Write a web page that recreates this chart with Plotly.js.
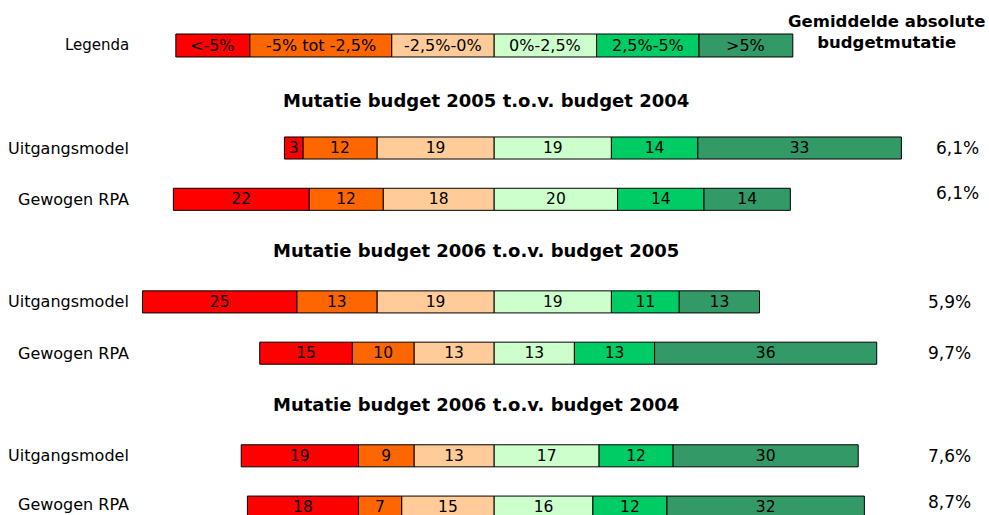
<!DOCTYPE html>
<html>
<head>
<meta charset="utf-8">
<script src="https://cdn.plot.ly/plotly-3.0.1.min.js"></script>
<style>html,body{margin:0;padding:0;background:#fff;}#chart{width:989px;height:515px;}</style>
</head>
<body>
<div id="chart"></div>
<script>
// ---- data ----
const rowLabels = ['Uitgangsmodel', 'Gewogen RPA', 'Uitgangsmodel', 'Gewogen RPA', 'Uitgangsmodel', 'Gewogen RPA'];
const sectionTitles = ['Mutatie budget 2005 t.o.v. budget 2004', 'Mutatie budget 2006 t.o.v. budget 2005', 'Mutatie budget 2006 t.o.v. budget 2004'];
const categories = ['<-5%', '-5% tot -2,5%', '-2,5%-0%', '0%-2,5%', '2,5%-5%', '>5%'];
const lt5     = [3, 22, 25, 15, 19, 18];
const m5tot25 = [12, 12, 13, 10, 9, 7];
const m25tot0 = [19, 18, 19, 13, 13, 15];
const p0tot25 = [19, 20, 19, 13, 17, 16];
const p25tot5 = [14, 14, 11, 13, 12, 12];
const gt5     = [33, 14, 13, 36, 30, 32];
const avgMutation = ['6,1%', '6,1%', '5,9%', '9,7%', '7,6%', '8,7%'];
const headerText = 'Gemiddelde absolute<br>budgetmutatie';
const legendTitle = 'Legenda';

// ---- styling / layout constants ----
const colors = ['#FF0000', '#FF6600', '#FFCC99', '#CCFFCC', '#00CC66', '#339966'];
const FONT = 'DejaVu Sans, Verdana, sans-serif';
const W = 989, H = 515;
const px = v => v / W;
const TXT = 16;      // normal text size
const BOLD = 18;     // section title size
// legend cell boundaries (x-axis units)
const legendEdges = [-51.6, -39.6, -16.6, 0, 16.6, 33.2, 48.4];
const valueRight = [981, 981, 973, 973, 973, 973];
const valueShift = [0, 6, 0, 0, 0, 5];
const labelShift = [0, 0, 0, 0, 0, 3];

const rowSlots = rowLabels.map((_, i) => 2 + 3 * Math.floor(i / 2) + (i % 2));
const titleSlots = sectionTitles.map((_, i) => 1 + 3 * i);

const neg = v => v.map(x => -x);
const seriesDefs = [
  {name: categories[2], vals: m25tot0, sign: -1, c: colors[2]},
  {name: categories[1], vals: m5tot25, sign: -1, c: colors[1]},
  {name: categories[0], vals: lt5, sign: -1, c: colors[0]},
  {name: categories[3], vals: p0tot25, sign: 1, c: colors[3]},
  {name: categories[4], vals: p25tot5, sign: 1, c: colors[4]},
  {name: categories[5], vals: gt5, sign: 1, c: colors[5]}
];

const traces = seriesDefs.map(s => ({
  type: 'bar',
  orientation: 'h',
  name: s.name,
  y: rowSlots,
  x: s.sign < 0 ? neg(s.vals) : s.vals,
  text: s.vals.map(String),
  texttemplate: '%{text}',
  textposition: 'inside',
  insidetextanchor: 'middle',
  textangle: 0,
  constraintext: 'none',
  textfont: {family: FONT, size: 15.5, color: '#000'},
  marker: {color: s.c, line: {color: '#000', width: 1}},
  width: 0.43,
  hoverinfo: 'skip',
  showlegend: false
}));

const shapes = [];
const annotations = [];

// legend row
categories.forEach((c, i) => {
  shapes.push({type: 'rect', xref: 'x', yref: 'y', x0: legendEdges[i], x1: legendEdges[i + 1],
    y0: -0.222, y1: 0.226, fillcolor: colors[i], line: {color: '#000', width: 1}, layer: 'above'});
  annotations.push({xref: 'x', yref: 'y', x: (legendEdges[i] + legendEdges[i + 1]) / 2, y: 0,
    text: c, showarrow: false, font: {family: FONT, size: TXT, color: '#000'}});
});
annotations.push({xref: 'paper', yref: 'y', x: px(131), y: 0, xanchor: 'right', text: legendTitle,
  showarrow: false, font: {family: FONT, size: 15, color: '#000'}});

// header
annotations.push({xref: 'paper', yref: 'paper', x: px(886), y: 1 - 32 / H, xanchor: 'center', yanchor: 'middle',
  text: '<b>' + headerText + '</b>', showarrow: false, align: 'center',
  font: {family: FONT, size: 16.5, color: '#000'}});

// section titles
sectionTitles.forEach((t, i) => {
  annotations.push({xref: 'paper', yref: 'y', x: px(i === 0 ? 485.5 : 475.5), y: titleSlots[i],
    yshift: i === 0 ? -4 : 0, text: '<b>' + t + '</b>', showarrow: false,
    font: {family: FONT, size: BOLD, color: '#000'}});
});

// row labels + values
rowLabels.forEach((l, i) => {
  annotations.push({xref: 'paper', yref: 'y', x: px(131), y: rowSlots[i], yshift: labelShift[i], xanchor: 'right', text: l,
    showarrow: false, font: {family: FONT, size: TXT, color: '#000'}});
  annotations.push({xref: 'paper', yref: 'y', x: px(valueRight[i]), y: rowSlots[i], yshift: valueShift[i],
    xanchor: 'right', text: avgMutation[i], showarrow: false, font: {family: FONT, size: 17, color: '#000'}});
});

const layout = {
  width: W, height: H,
  margin: {l: 0, r: 0, t: 0, b: 0, pad: 0},
  paper_bgcolor: '#fff', plot_bgcolor: '#fff',
  barmode: 'relative',
  xaxis: {range: [-80.1, 80.2], visible: false, fixedrange: true},
  yaxis: {range: [9.154, -0.885], visible: false, fixedrange: true},
  shapes: shapes,
  annotations: annotations,
  showlegend: false
};

Plotly.newPlot('chart', traces, layout, {staticPlot: true, displayModeBar: false});
</script>
</body>
</html>
